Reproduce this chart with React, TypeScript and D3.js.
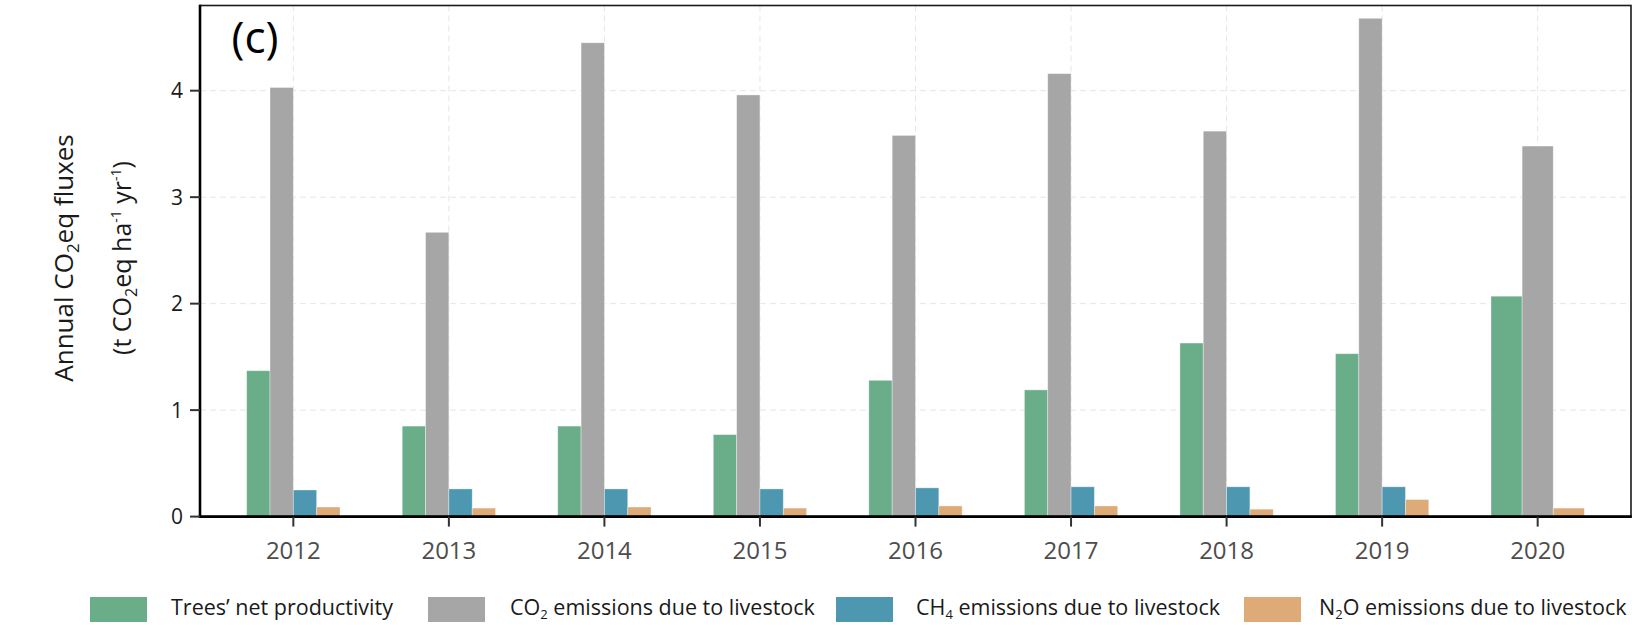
import React from 'react';
import * as d3 from 'd3';

const years = ['2012', '2013', '2014', '2015', '2016', '2017', '2018', '2019', '2020'];
const treesNP = [1.37, 0.85, 0.85, 0.77, 1.28, 1.19, 1.63, 1.53, 2.07];
const co2Livestock = [4.03, 2.67, 4.45, 3.96, 3.58, 4.16, 3.62, 4.68, 3.48];
const ch4Livestock: (number | null)[] = [0.25, 0.26, 0.26, 0.26, 0.27, 0.28, 0.28, 0.28, null];
const n2oLivestock = [0.09, 0.08, 0.09, 0.08, 0.1, 0.1, 0.07, 0.16, 0.08];
const yTicks = [0, 1, 2, 3, 4];

const seriesKeys = ['trees', 'co2', 'ch4', 'n2o'];
const seriesValues: Record<string, (number | null)[]> = {
  trees: treesNP,
  co2: co2Livestock,
  ch4: ch4Livestock,
  n2o: n2oLivestock,
};
const colors: Record<string, string> = {
  trees: '#6AAD89',
  co2: '#A6A6A6',
  ch4: '#4E97B0',
  n2o: '#DDAA78',
};

const W = 1635;
const H = 625;
const L = 200, R = 1631, T = 5.5, B = 516.6;
const FONT = "'Open Sans', 'Noto Sans', sans-serif";

export default function App() {
  const x = d3.scaleBand<string>().domain(years).range([L, R]).paddingInner(0).paddingOuter(0.1);
  const y = d3.scaleLinear().domain([0, 4.8]).range([B, T]);
  const step = x.bandwidth();
  const dodge = step * 0.6;

  const bars: React.ReactNode[] = [];
  years.forEach((yr, i) => {
    const cx = (x(yr) as number) + step / 2;
    const present = seriesKeys.filter((k) => seriesValues[k][i] != null);
    const inner = d3.scaleBand<string>().domain(present).range([cx - dodge / 2, cx + dodge / 2]);
    present.forEach((k) => {
      const v = seriesValues[k][i] as number;
      bars.push(
        <rect
          key={yr + k}
          x={inner(k)}
          y={y(v)}
          width={inner.bandwidth()}
          height={y(0) - y(v)}
          fill={colors[k]}
          stroke="#ffffff"
          strokeOpacity={0.45}
          strokeWidth={0.8}
        />
      );
    });
  });

  const subFs = 13;
  const legendItems = [
    { k: 'trees', kx: 90, tx: 171, label: <tspan>Trees’ net productivity</tspan> },
    { k: 'co2', kx: 428, tx: 510, label: <><tspan>CO</tspan><tspan fontSize={subFs} dy={4}>2</tspan><tspan dy={-4}> emissions due to livestock</tspan></> },
    { k: 'ch4', kx: 836, tx: 916, label: <><tspan>CH</tspan><tspan fontSize={subFs} dy={4}>4</tspan><tspan dy={-4}> emissions due to livestock</tspan></> },
    { k: 'n2o', kx: 1244, tx: 1319, label: <><tspan>N</tspan><tspan fontSize={subFs} dy={4}>2</tspan><tspan dy={-4}>O emissions due to livestock</tspan></> },
  ];

  return (
    <svg width={W} height={H} style={{ position: 'absolute', left: 0, top: 0, background: '#fff' }} fontFamily={FONT}>
      <rect x={0} y={0} width={W} height={H} fill="#fff" />
      {/* gridlines */}
      {yTicks.map((t) => (
        <line key={'gy' + t} x1={L} x2={R} y1={y(t)} y2={y(t)} stroke="#E6E6E6" strokeWidth={1} strokeDasharray="6,4" />
      ))}
      {years.map((yr) => (
        <line key={'gx' + yr} x1={(x(yr) as number) + step / 2} x2={(x(yr) as number) + step / 2} y1={T} y2={B} stroke="#E6E6E6" strokeWidth={1} strokeDasharray="6,4" />
      ))}
      {bars}
      {/* panel border */}
      <rect x={L} y={T} width={R - L} height={B - T} fill="none" stroke="#1a1a1a" strokeWidth={1.6} />
      <line x1={L} x2={L} y1={T - 0.8} y2={B + 1.2} stroke="#000" strokeWidth={2.6} />
      <line x1={L - 1.2} x2={R + 0.8} y1={B} y2={B} stroke="#000" strokeWidth={2.6} />
      {/* y ticks */}
      {yTicks.map((t) => (
        <g key={'yt' + t}>
          <line x1={L - 10} x2={L} y1={y(t)} y2={y(t)} stroke="#333" strokeWidth={2} />
          <text x={L - 17} y={y(t)} dy="0.36em" textAnchor="end" fontSize={21} fill="#1a1a1a">{t}</text>
        </g>
      ))}
      {/* x ticks */}
      {years.map((yr) => {
        const cx = (x(yr) as number) + step / 2;
        return (
          <g key={'xt' + yr}>
            <line x1={cx} x2={cx} y1={B} y2={B + 10} stroke="#333" strokeWidth={2} />
            <text x={cx} y={559} textAnchor="middle" fontSize={24} fill="#4D4D4D">{yr}</text>
          </g>
        );
      })}
      {/* panel label */}
      <text x={255} y={53} textAnchor="middle" fontSize={44} fill="#000">(c)</text>
      {/* y axis title */}
      <text transform="translate(73,258) rotate(-90)" textAnchor="middle" fontSize={26} fill="#1a1a1a">
        <tspan>Annual CO</tspan><tspan fontSize={17} dy={6}>2</tspan><tspan dy={-6}>eq fluxes</tspan>
      </text>
      <text transform="translate(131,258) rotate(-90)" textAnchor="middle" fontSize={25} fill="#1a1a1a">
        <tspan>(t CO</tspan><tspan fontSize={16} dy={6}>2</tspan><tspan dy={-6}>eq ha</tspan><tspan fontSize={14} dy={-10}>-1</tspan><tspan dy={10}> yr</tspan><tspan fontSize={14} dy={-10}>-1</tspan><tspan dy={10}>)</tspan>
      </text>
      {/* legend */}
      {legendItems.map((it) => (
        <g key={'lg' + it.k}>
          <rect x={it.kx} y={597} width={57} height={25} fill={colors[it.k]} />
          <text x={it.tx} y={615} fontSize={21.5} fill="#1a1a1a">{it.label}</text>
        </g>
      ))}
    </svg>
  );
}
